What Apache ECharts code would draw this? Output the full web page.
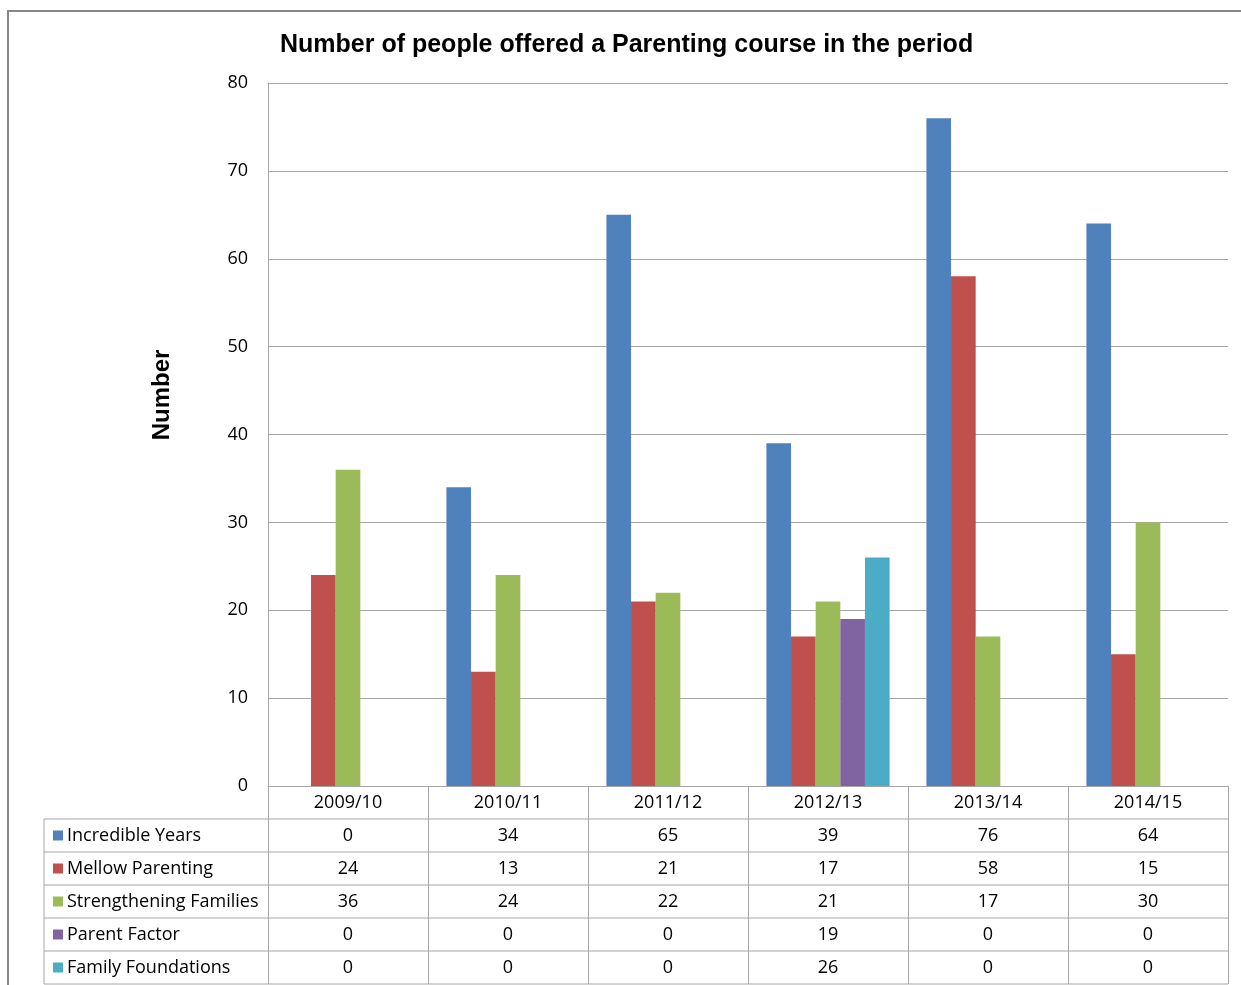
<!DOCTYPE html>
<html>
<head>
<meta charset="utf-8">
<script src="https://cdn.jsdelivr.net/npm/echarts@6/dist/echarts.min.js"></script>
<style>
  html, body { margin: 0; padding: 0; background: #fff; }
  #chart { width: 1241px; height: 985px; }
</style>
</head>
<body>
<div id="chart"></div>
<script>
var periods = ['2009/10', '2010/11', '2011/12', '2012/13', '2013/14', '2014/15'];
var seriesNames = ['Incredible Years', 'Mellow Parenting', 'Strengthening Families', 'Parent Factor', 'Family Foundations'];
var incredibleYears = [0, 34, 65, 39, 76, 64];
var mellowParenting = [24, 13, 21, 17, 58, 15];
var strengtheningFamilies = [36, 24, 22, 21, 17, 30];
var parentFactor = [0, 0, 0, 19, 0, 0];
var familyFoundations = [0, 0, 0, 26, 0, 0];
var yTicks = [0, 10, 20, 30, 40, 50, 60, 70, 80];

var allValues = [incredibleYears, mellowParenting, strengtheningFamilies, parentFactor, familyFoundations];
var colors = ['#4F81BD', '#C0504D', '#9BBB59', '#8064A2', '#4BACC6'];

var gridLeft = 268, gridRight = 13, gridTop = 83, gridBottom = 199;
var rowH = 33;
var tableFont = '"Open Sans", Lato, sans-serif';
var lineColor = '#a6a6a6';

var chart = echarts.init(document.getElementById('chart'));

// table lines and the legend column
var graphics = [
  {
    type: 'rect',
    shape: {x: 8, y: 11, width: 1300, height: 1100},
    style: {fill: 'none', stroke: '#888', lineWidth: 2},
    silent: true
  }
];
var tableTop = 985 - gridBottom; // axis line
var rightX = 1241 - gridRight;
for (var r = 1; r <= seriesNames.length + 1; r++) {
  var y = tableTop + r * rowH;
  graphics.push({
    type: 'line',
    shape: {x1: 44, y1: y, x2: rightX, y2: y},
    style: {stroke: lineColor, lineWidth: 1},
    silent: true
  });
}
graphics.push({
  type: 'line',
  shape: {x1: 44, y1: tableTop + rowH, x2: 44, y2: tableTop + (seriesNames.length + 1) * rowH},
  style: {stroke: lineColor, lineWidth: 1},
  silent: true
});
seriesNames.forEach(function (name, i) {
  var cy = tableTop + (i + 1) * rowH + rowH / 2;
  graphics.push({
    type: 'rect',
    shape: {x: 53, y: cy - 5, width: 10, height: 10},
    style: {fill: colors[i]},
    silent: true
  });
  graphics.push({
    type: 'text',
    x: 67,
    y: cy,
    style: {text: name, fill: '#000', font: '18px ' + tableFont, textVerticalAlign: 'middle'},
    silent: true
  });
});
graphics.push({
  type: 'text',
  x: 162,
  y: 395,
  rotation: Math.PI / 2,
  style: {
    text: 'Number', fill: '#000', font: 'bold 24px "Liberation Sans", Arial, sans-serif',
    textAlign: 'center', textVerticalAlign: 'middle'
  },
  silent: true
});

var option = {
  animation: false,
  color: colors,
  title: {
    text: 'Number of people offered a Parenting course in the period',
    left: 275,
    top: 28,
    textStyle: {
      fontFamily: '"Liberation Sans", Arial, sans-serif',
      fontWeight: 'bold',
      fontSize: 25,
      color: '#000'
    }
  },
  grid: {left: gridLeft, right: gridRight, top: gridTop, bottom: gridBottom, containLabel: false},
  xAxis: {
    type: 'category',
    data: periods,
    axisLine: {show: true, lineStyle: {color: lineColor}},
    axisTick: {show: true, length: rowH * (seriesNames.length + 1), interval: 0, lineStyle: {color: lineColor}},
    axisLabel: {
      margin: 0,
      interval: 0,
      fontFamily: tableFont,
      fontSize: 18,
      lineHeight: rowH,
      color: '#000',
      formatter: function (val, idx) {
        var lines = [val];
        allValues.forEach(function (arr) { lines.push(arr[idx]); });
        return lines.join('\n');
      }
    }
  },
  yAxis: {
    type: 'value',
    min: 0,
    max: yTicks[yTicks.length - 1],
    interval: 10,
    axisLine: {show: true, lineStyle: {color: lineColor}},
    axisTick: {show: false},
    splitLine: {lineStyle: {color: lineColor}},
    axisLabel: {margin: 20, fontFamily: tableFont, fontSize: 18, color: '#000'}
  },
  graphic: graphics,
  series: seriesNames.map(function (name, i) {
    return {
      name: name,
      type: 'bar',
      data: allValues[i],
      barGap: 0,
      barCategoryGap: '23%',
      itemStyle: {color: colors[i]}
    };
  })
};

chart.setOption(option);
</script>
</body>
</html>
